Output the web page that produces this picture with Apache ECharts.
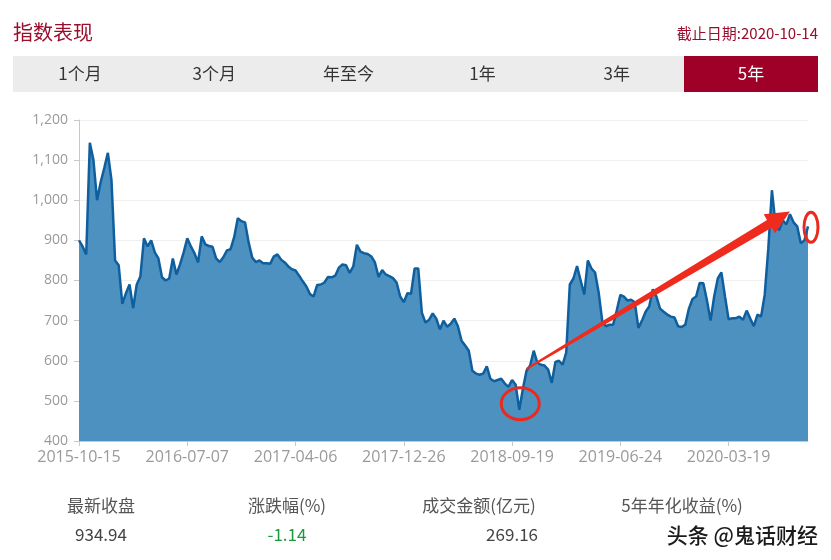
<!DOCTYPE html>
<html><head><meta charset="utf-8">
<script src="https://cdn.jsdelivr.net/npm/echarts/dist/echarts.min.js"></script>
<style>html,body{margin:0;padding:0;background:#fff;}#c{width:831px;height:560px;}</style>
</head><body><div id="c"></div>
<script>
const dates = [
'2015-10-15','2015-10-24','2015-11-02','2015-11-11','2015-11-20','2015-11-29','2015-12-08','2015-12-17','2015-12-26','2016-01-04',
'2016-01-13','2016-01-22','2016-01-31','2016-02-09','2016-02-18','2016-02-27','2016-03-07','2016-03-16','2016-03-25','2016-04-03',
'2016-04-12','2016-04-21','2016-04-30','2016-05-09','2016-05-18','2016-05-27','2016-06-05','2016-06-13','2016-06-21','2016-06-29',
'2016-07-07','2016-07-16','2016-07-25','2016-08-03','2016-08-12','2016-08-21','2016-08-30','2016-09-08','2016-09-17','2016-09-26',
'2016-10-05','2016-10-14','2016-10-23','2016-11-01','2016-11-10','2016-11-19','2016-11-28','2016-12-07','2016-12-16','2016-12-25',
'2017-01-03','2017-01-12','2017-01-21','2017-01-30','2017-02-08','2017-02-17','2017-02-26','2017-03-07','2017-03-17','2017-03-27',
'2017-04-06','2017-04-15','2017-04-24','2017-05-03','2017-05-12','2017-05-21','2017-05-30','2017-06-08','2017-06-17','2017-06-26',
'2017-07-05','2017-07-14','2017-07-23','2017-08-01','2017-08-10','2017-08-19','2017-08-28','2017-09-06','2017-09-15','2017-09-24',
'2017-10-03','2017-10-12','2017-10-21','2017-10-30','2017-11-08','2017-11-16','2017-11-24','2017-12-02','2017-12-10','2017-12-18',
'2017-12-26','2018-01-04','2018-01-13','2018-01-22','2018-01-31','2018-02-09','2018-02-18','2018-02-27','2018-03-08','2018-03-17',
'2018-03-26','2018-04-04','2018-04-13','2018-04-22','2018-05-01','2018-05-10','2018-05-19','2018-05-28','2018-06-06','2018-06-15',
'2018-06-24','2018-07-03','2018-07-12','2018-07-21','2018-07-30','2018-08-08','2018-08-17','2018-08-26','2018-09-03','2018-09-11',
'2018-09-19','2018-09-28','2018-10-07','2018-10-16','2018-10-25','2018-11-03','2018-11-12','2018-11-21','2018-11-30','2018-12-09',
'2018-12-18','2018-12-27','2019-01-05','2019-01-14','2019-01-23','2019-02-01','2019-02-10','2019-02-19','2019-02-28','2019-03-09',
'2019-03-18','2019-03-27','2019-04-05','2019-04-15','2019-04-25','2019-05-05','2019-05-15','2019-05-25','2019-06-04','2019-06-14',
'2019-06-24','2019-07-03','2019-07-12','2019-07-21','2019-07-30','2019-08-08','2019-08-17','2019-08-26','2019-09-04','2019-09-13',
'2019-09-22','2019-10-01','2019-10-10','2019-10-19','2019-10-28','2019-11-06','2019-11-15','2019-11-24','2019-12-03','2019-12-12',
'2019-12-21','2019-12-30','2020-01-08','2020-01-17','2020-01-26','2020-02-04','2020-02-13','2020-02-22','2020-03-02','2020-03-11',
'2020-03-19','2020-03-29','2020-04-08','2020-04-18','2020-04-28','2020-05-08','2020-05-18','2020-05-28','2020-06-07','2020-06-17',
'2020-06-27','2020-07-07','2020-07-16','2020-07-25','2020-08-03','2020-08-12','2020-08-21','2020-08-30','2020-09-08','2020-09-17',
'2020-09-26','2020-10-05','2020-10-14'
];
const values = [
900,885,865,1143,1100,1000,1045,1080,1118,1050,
850,838,742,768,790,731,790,810,905,885,
900,870,855,808,800,805,855,815,840,870,
905,885,868,845,910,890,886,884,855,846,
858,875,878,908,955,948,945,895,857,846,
850,843,843,842,860,865,852,845,835,828,
825,812,798,785,766,760,789,790,795,809,
808,812,832,840,838,819,835,889,872,868,
866,860,845,809,826,815,811,806,795,760,
746,768,767,830,830,720,695,702,718,705,
678,700,685,692,705,686,650,638,625,575,
568,565,568,586,555,549,552,555,543,535,
552,540,478,530,575,588,625,595,590,588,
578,545,597,600,590,620,790,805,836,800,
765,850,830,820,770,698,686,690,690,725,
764,760,750,752,746,682,700,722,735,778,
760,730,722,715,710,708,686,684,690,730,
754,760,794,793,750,700,760,805,820,760,
703,706,706,710,702,725,705,686,715,710,
764,880,1025,940,925,950,940,965,945,935,
893,900,935
];
const tickDates = ['2015-10-15','2016-07-07','2017-04-06','2017-12-26','2018-09-19','2019-06-24','2020-03-19'];
const yMin = 400, yMax = 1200, yStep = 100;
const titleText = '指数表现';
const dateText = '截止日期:2020-10-14';
const tabs = ['1个月','3个月','年至今','1年','3年','5年'];
const activeTab = 5;
const statLabels = ['最新收盘','涨跌幅(%)','成交金额(亿元)','5年年化收益(%)'];
const statValues = ['934.94','-1.14','269.16',''];
const watermark = '头条 @鬼话财经';
// annotation anchors in data space [categoryIndex, value]
const lowMark = [122, 478];
const endMark = [202, 935];
const arrowFrom = [124, 580];
const arrowTo = [197, 972];

const CJK = '"Noto Sans CJK SC", "Noto Sans", sans-serif';
const chart = echarts.init(document.getElementById('c'), null, {renderer: 'canvas'});

const graphics = [];
graphics.push({type:'text', x:13, y:32, style:{text:titleText, fill:'#9b0d2c', font:'20px ' + CJK, align:'left', verticalAlign:'middle', textAlign:'left', textVerticalAlign:'middle'}});
graphics.push({type:'text', x:818, y:33, style:{text:dateText, fill:'#9b0d2c', font:'15px ' + CJK, align:'right', verticalAlign:'middle', textAlign:'right', textVerticalAlign:'middle'}});
graphics.push({type:'rect', shape:{x:13, y:56, width:805, height:36}, style:{fill:'#ececec'}});
const tabW = 805 / tabs.length;
tabs.forEach((t, i) => {
  const x0 = 13 + i * tabW;
  if (i === activeTab) {
    graphics.push({type:'rect', shape:{x:Math.round(x0), y:56, width:818 - Math.round(x0), height:36}, style:{fill:'#9e0028'}});
  }
  graphics.push({type:'text', x:x0 + tabW / 2, y:74, style:{text:t, fill: i === activeTab ? '#ffffff' : '#333333', font:'17px ' + CJK, align:'center', verticalAlign:'middle', textAlign:'center', textVerticalAlign:'middle'}});
});
const statCenters = [101, 287, 479, 682];
statLabels.forEach((t, i) => {
  graphics.push({type:'text', x:statCenters[i], y:506, style:{text:t, fill:'#555555', font:'17px ' + CJK, align:'center', verticalAlign:'middle', textAlign:'center', textVerticalAlign:'middle'}});
});
graphics.push({type:'text', x:101, y:535, style:{text:statValues[0], fill:'#444444', font:'17px ' + CJK, align:'center', verticalAlign:'middle', textAlign:'center', textVerticalAlign:'middle'}});
graphics.push({type:'text', x:287, y:535, style:{text:statValues[1], fill:'#1a9a3c', font:'17px ' + CJK, align:'center', verticalAlign:'middle', textAlign:'center', textVerticalAlign:'middle'}});
graphics.push({type:'text', x:538, y:535, style:{text:statValues[2], fill:'#444444', font:'17px ' + CJK, align:'right', verticalAlign:'middle', textAlign:'right', textVerticalAlign:'middle'}});
graphics.push({type:'text', x:818, y:535, style:{text:watermark, fill:'#1a1a1a', font:'500 21px ' + CJK, align:'right', verticalAlign:'middle', textAlign:'right', textVerticalAlign:'middle', stroke:'#ffffff', lineWidth:2}});

chart.setOption({
  animation: false,
  backgroundColor: '#ffffff',
  grid: {left: 79, right: 23, top: 120, bottom: 119, containLabel: false},
  xAxis: {
    type: 'category', data: dates, boundaryGap: false,
    axisLine: {lineStyle: {color: '#c8c8c8'}},
    axisTick: {show: true, length: 5, interval: (i, v) => tickDates.includes(v), lineStyle: {color: '#c8c8c8'}},
    axisLabel: {interval: (i, v) => tickDates.includes(v), color: '#9a9a9a', fontSize: 16, fontFamily: '"Open Sans", sans-serif', margin: 8},
    splitLine: {show: false}
  },
  yAxis: {
    type: 'value', min: yMin, max: yMax, interval: yStep,
    axisLine: {show: true, lineStyle: {color: '#c8c8c8'}},
    axisTick: {show: true, length: 5, lineStyle: {color: '#c8c8c8'}},
    axisLabel: {color: '#9a9a9a', fontSize: 14, fontFamily: '"Open Sans", sans-serif', margin: 11, formatter: v => v.toLocaleString('en-US')},
    splitLine: {show: true, lineStyle: {color: '#efefef'}}
  },
  series: [{
    type: 'line', data: values, showSymbol: false, symbol: 'none',
    lineStyle: {color: '#0f5f9e', width: 2.5},
    areaStyle: {color: '#4d91c0', opacity: 1},
    z: 2
  }],
  graphic: graphics
});

function px(p) { return chart.convertToPixel({gridIndex: 0}, p); }
const lp = px(lowMark), ep = px(endMark), a0 = px(arrowFrom), a1 = px(arrowTo);
const dx = a1[0] - a0[0], dy = a1[1] - a0[1], L = Math.hypot(dx, dy);
const ux = dx / L, uy = dy / L, nx = -uy, ny = ux;
const hx = a1[0] - ux * 24, hy = a1[1] - uy * 24;
const arrowPts = [
  [a0[0] + nx * 1, a0[1] + ny * 1],
  [hx + nx * 4.5, hy + ny * 4.5],
  [hx + nx * 11, hy + ny * 11],
  [a1[0], a1[1]],
  [hx - nx * 11, hy - ny * 11],
  [hx - nx * 4.5, hy - ny * 4.5],
  [a0[0] - nx * 1, a0[1] - ny * 1]
];
graphics.push({type:'ellipse', z:100, shape:{cx: lp[0] + 1, cy: lp[1] - 6, rx: 19, ry: 16}, style:{fill:'none', stroke:'#ea2a1e', lineWidth:3}});
graphics.push({type:'ellipse', z:100, shape:{cx: ep[0] + 3, cy: ep[1] + 1, rx: 7, ry: 15}, style:{fill:'none', stroke:'#ea2a1e', lineWidth:3}});
graphics.push({type:'polygon', z:100, shape:{points: arrowPts}, style:{fill:'#ef2b1d'}});
chart.setOption({graphic: graphics});
</script></body></html>
